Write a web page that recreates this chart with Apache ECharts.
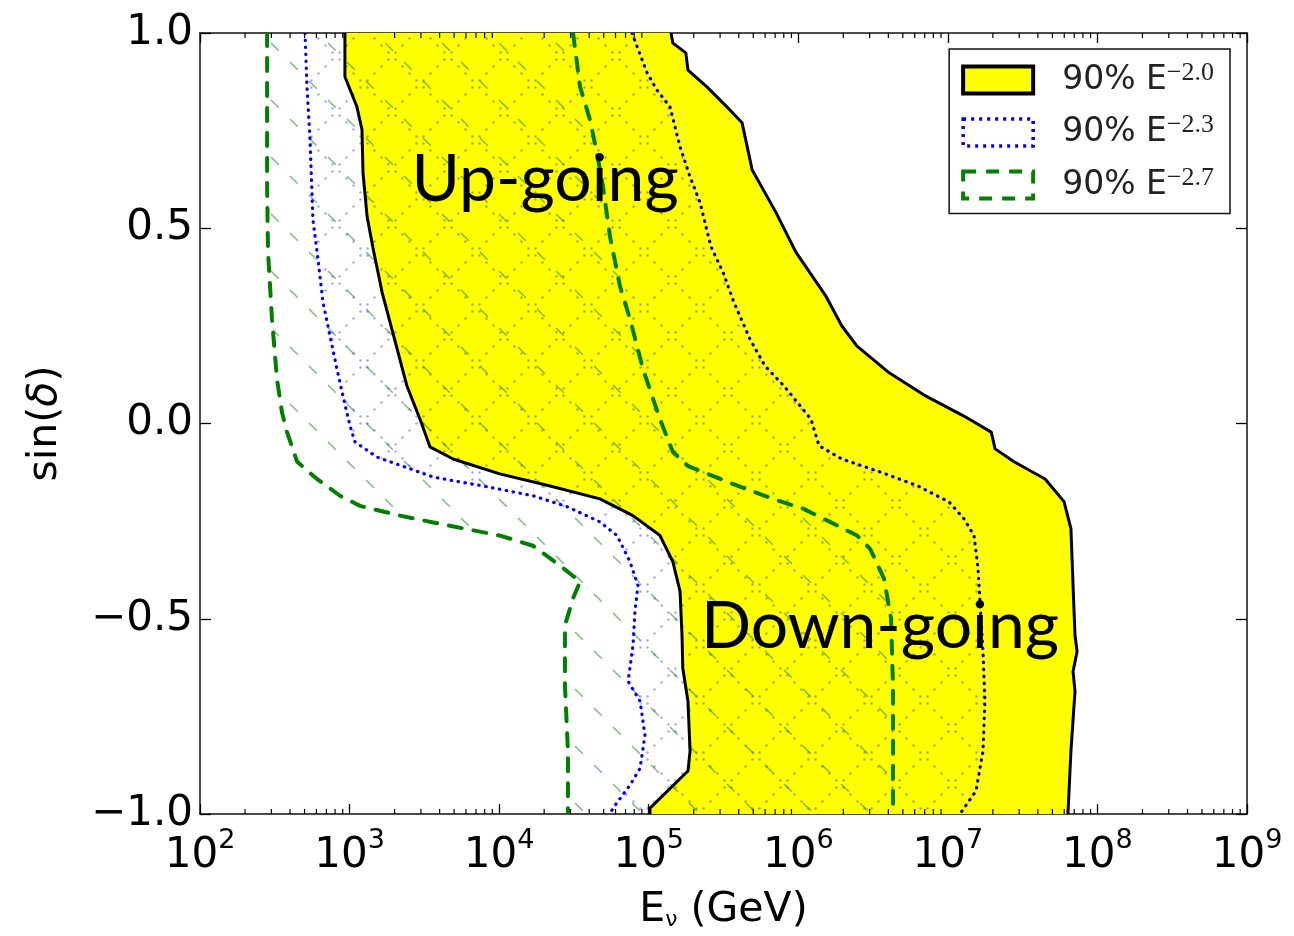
<!DOCTYPE html>
<html>
<head>
<meta charset="utf-8">
<script src="https://cdn.jsdelivr.net/npm/echarts@6/dist/echarts.min.js"></script>
<style>
  html, body { margin: 0; padding: 0; background: #fff; }
  #chart { width: 1294px; height: 936px; }
</style>
</head>
<body>
<div id="chart"></div>
<script>
// 90% sensitivity bands in (E_nu, sin(delta)) for three spectral indices.
// Each band is bounded by a low-energy edge and a high-energy edge.

// E^-2.0 (yellow band)
const e20LeftE   = [931, 931, 1120, 1210, 1230, 1310, 1440, 1650, 1920, 2420, 2960, 3450, 4920, 10100, 21900, 47200, 78500, 119000, 145000, 162000, 167000, 169000, 183000, 189000, 183000, 102000, 102000];
const e20LeftSin = [1.0, 0.888, 0.811, 0.753, 0.642, 0.530, 0.446, 0.336, 0.241, 0.096, 0.011, -0.060, -0.091, -0.129, -0.160, -0.193, -0.236, -0.287, -0.354, -0.430, -0.543, -0.627, -0.711, -0.839, -0.890, -0.985, -1.0];
const e20RightE   = [1.41e5, 1.45e5, 1.77e5, 1.83e5, 2.45e5, 3.49e5, 4.21e5, 4.91e5, 7.10e5, 9.66e5, 1.53e6, 1.96e6, 2.47e6, 3.98e6, 7.14e6, 1.28e7, 1.95e7, 2.07e7, 2.77e7, 4.47e7, 5.98e7, 6.65e7, 6.87e7, 7.08e7, 7.31e7, 6.87e7, 7.08e7, 6.65e7, 6.35e7];
const e20RightSin = [1.0, 0.974, 0.949, 0.905, 0.862, 0.803, 0.770, 0.650, 0.540, 0.438, 0.326, 0.249, 0.198, 0.132, 0.070, 0.019, -0.022, -0.065, -0.098, -0.142, -0.200, -0.269, -0.415, -0.543, -0.584, -0.635, -0.686, -0.839, -1.0];

// E^-2.3 (blue dotted band)
const e23LeftE   = [504, 519, 543, 569, 615, 664, 740, 824, 904, 1007, 1086, 1524, 3614, 7798, 16830, 28440, 47210, 61380, 74990, 84720, 80910, 78520, 72780, 87500, 94410, 87500, 74990, 57680, 55080];
const e23LeftSin = [1.0, 0.862, 0.734, 0.522, 0.420, 0.310, 0.224, 0.139, 0.070, -0.006, -0.047, -0.086, -0.137, -0.160, -0.185, -0.213, -0.252, -0.287, -0.354, -0.415, -0.481, -0.568, -0.660, -0.711, -0.798, -0.883, -0.926, -0.985, -1.0];
const e23RightE   = [77270, 97500, 113500, 138700, 161800, 188800, 220300, 260600, 314100, 371500, 475300, 599800, 803500, 1.216e6, 1.377e6, 1.959e6, 3.516e6, 6.31e6, 1.019e7, 1.282e7, 1.496e7, 1.592e7, 1.641e7, 1.718e7, 1.770e7, 1.718e7, 1.542e7, 1.205e7];
const e23RightSin = [1.0, 0.898, 0.854, 0.811, 0.709, 0.632, 0.566, 0.453, 0.387, 0.310, 0.216, 0.147, 0.096, 0.011, -0.057, -0.091, -0.124, -0.160, -0.201, -0.244, -0.287, -0.372, -0.456, -0.584, -0.711, -0.839, -0.941, -1.0];

// E^-2.7 (green dashed band)
const e27LeftE   = [281, 281, 285, 303, 327, 353, 382, 446, 605, 863, 1175, 2173, 4688, 10140, 16830, 25530, 34750, 31190, 27540, 27540, 28840, 28840];
const e27LeftSin = [1.0, 0.607, 0.438, 0.267, 0.114, 0.029, -0.022, -0.098, -0.142, -0.185, -0.211, -0.236, -0.262, -0.287, -0.313, -0.364, -0.405, -0.448, -0.517, -0.671, -0.839, -1.0];
const e27RightE   = [31190, 34750, 40460, 45080, 49430, 55080, 64270, 74990, 91620, 118900, 145200, 183200, 395400, 677600, 1.076e6, 1.629e6, 2.472e6, 3.020e6, 3.741e6, 4.169e6, 4.295e6, 4.295e6];
const e27RightSin = [1.0, 0.862, 0.778, 0.693, 0.607, 0.479, 0.351, 0.267, 0.139, 0.011, -0.073, -0.109, -0.160, -0.193, -0.218, -0.252, -0.287, -0.321, -0.397, -0.499, -0.671, -1.0];

const seriesNames = ['90% E^-2.0', '90% E^-2.3', '90% E^-2.7'];
const legendExponents = ['\u22122.0', '\u22122.3', '\u22122.7'];

const annotationText = ['Up-going', 'Down-going'];
const annotationE    = [2.03e4, 3.52e6];
const annotationSin  = [0.625, -0.52];

const xMin = 1e2, xMax = 1e9;
const yMin = -1, yMax = 1, yStep = 0.5;

// minor tick positions (2..9 x 10^n) for the log axis
const minorTicks = [];
for (let p = 2; p < 9; p++) {
  for (let m = 2; m <= 9; m++) minorTicks.push([m * Math.pow(10, p), yMin]);
}

// hatch textures
function crossHatch() {
  const d = 56, c = document.createElement('canvas');
  c.width = d; c.height = d;
  const ctx = c.getContext('2d');
  ctx.fillStyle = 'rgba(0,0,255,0.36)';
  const n = 8, step = d / n;
  for (let k = 0; k < n; k++) {
    const t = (k + 0.5) * step;
    ctx.beginPath(); ctx.arc(t, t, 1.2, 0, Math.PI * 2); ctx.fill();
    ctx.beginPath(); ctx.arc(t, d - t, 1.2, 0, Math.PI * 2); ctx.fill();
  }
  return c;
}
function backHatch() {
  const d = 57, c = document.createElement('canvas');
  c.width = d; c.height = d;
  const ctx = c.getContext('2d');
  ctx.strokeStyle = 'rgba(0,128,0,0.5)';
  ctx.lineWidth = 1.6;
  for (let k = 0; k < 3; k++) {
    const u0 = k * d / 3 + 5, u1 = u0 + 7.8;
    ctx.beginPath(); ctx.moveTo(u0, u0); ctx.lineTo(u1, u1); ctx.stroke();
  }
  return c;
}

function bandPoints(api, lE, lS, rE, rS) {
  const pts = [];
  for (let i = 0; i < lE.length; i++) pts.push(api.coord([lE[i], lS[i]]));
  for (let i = rE.length - 1; i >= 0; i--) pts.push(api.coord([rE[i], rS[i]]));
  return pts;
}
function edgePoints(api, E, S) {
  const pts = [];
  for (let i = 0; i < E.length; i++) pts.push(api.coord([E[i], S[i]]));
  return pts;
}

function fillSeries(name, lE, lS, rE, rS, fill, z) {
  return {
    type: 'custom', name: name, z: z, silent: true, clip: true,
    data: [[lE[0], lS[0]]],
    encode: { x: 0, y: 1 },
    renderItem: function (params, api) {
      return { type: 'polygon', shape: { points: bandPoints(api, lE, lS, rE, rS) },
               style: { fill: fill, stroke: null } };
    }
  };
}
function edgeSeries(name, lE, lS, rE, rS, stroke, width, dash, z) {
  return {
    type: 'custom', name: name, z: z, silent: true, clip: true,
    data: [[lE[0], lS[0]]],
    encode: { x: 0, y: 1 },
    renderItem: function (params, api) {
      const st = { fill: null, stroke: stroke, lineWidth: width, lineDash: dash, lineCap: dash ? 'round' : 'butt', lineJoin: 'round' };
      return { type: 'group', children: [
        { type: 'polyline', shape: { points: edgePoints(api, lE, lS) }, style: st },
        { type: 'polyline', shape: { points: edgePoints(api, rE, rS) }, style: st }
      ] };
    }
  };
}

const chart = echarts.init(document.getElementById('chart'), null, { renderer: 'canvas' });

const axisLineStyle = { color: '#111', width: 1.5 };
const tickFont = { fontFamily: 'DejaVu Sans', fontSize: 42, color: '#000' };

const option = {
  animation: false,
  backgroundColor: '#fff',
  grid: { left: 200, top: 33, right: 47, bottom: 120 },
  xAxis: [
    {
      type: 'log', logBase: 10, min: xMin, max: xMax, position: 'bottom',
      axisLine: { show: true, onZero: false, lineStyle: axisLineStyle },
      axisTick: { show: true, inside: true, length: 10, lineStyle: { color: '#000', width: 1.3 } },
      splitLine: { show: false },
      axisLabel: {
        margin: 13, showMinLabel: true, showMaxLabel: true,
        formatter: function (v) { return '{b|10}{s|' + Math.round(Math.log10(v)) + '}'; },
        rich: {
          b: { fontFamily: 'DejaVu Sans', fontSize: 42, color: '#000', lineHeight: 58 },
          s: { fontFamily: 'DejaVu Sans', fontSize: 27, color: '#000', verticalAlign: 'top' }
        }
      },
      name: 'E{sub|\u03bd} (GeV)', nameLocation: 'middle', nameGap: 76,
      nameTextStyle: {
        fontFamily: 'DejaVu Sans', fontSize: 41, color: '#000',
        rich: { sub: { fontFamily: 'DejaVu Sans', fontSize: 22, color: '#000', verticalAlign: 'bottom' } }
      }
    },
    {
      type: 'log', logBase: 10, min: xMin, max: xMax, position: 'top',
      axisLine: { show: true, onZero: false, lineStyle: axisLineStyle },
      axisTick: { show: true, inside: true, length: 10, lineStyle: { color: '#000', width: 1.3 } },
      axisLabel: { show: false }, splitLine: { show: false }
    }
  ],
  yAxis: [
    {
      type: 'value', min: yMin, max: yMax, interval: yStep, position: 'left',
      axisLine: { show: true, onZero: false, lineStyle: axisLineStyle },
      axisTick: { show: true, inside: true, length: 11, lineStyle: { color: '#000', width: 1.3 } },
      splitLine: { show: false },
      axisLabel: Object.assign({ margin: 7, formatter: function (v) { return v.toFixed(1).replace('-', '\u2212'); } }, tickFont),
      name: 'sin({i|\u03b4})', nameLocation: 'middle', nameGap: 134, nameRotate: 90,
      nameTextStyle: {
        fontFamily: 'DejaVu Sans', fontSize: 41, color: '#000',
        rich: { i: { fontFamily: 'DejaVu Sans', fontStyle: 'italic', fontSize: 41, color: '#000' } }
      }
    },
    {
      type: 'value', min: yMin, max: yMax, interval: yStep, position: 'right',
      axisLine: { show: true, onZero: false, lineStyle: axisLineStyle },
      axisTick: { show: true, inside: true, length: 11, lineStyle: { color: '#000', width: 1.3 } },
      axisLabel: { show: false }, splitLine: { show: false }
    }
  ],
  legend: {
    orient: 'vertical', right: 64, top: 49,
    backgroundColor: '#fff', borderColor: '#111', borderWidth: 1.5, borderRadius: 0,
    padding: [11, 16, 12, 12],
    itemWidth: 70, itemHeight: 27, itemGap: 16, icon: 'rect',
    selectedMode: false,
    data: [
      { name: seriesNames[0], itemStyle: { color: '#ffff00', borderColor: '#000', borderWidth: 4 } },
      { name: seriesNames[1], itemStyle: { color: '#ffffff', borderColor: '#0000ff', borderWidth: 3.5, borderType: [3, 5] } },
      { name: seriesNames[2], itemStyle: { color: '#ffffff', borderColor: '#007f00', borderWidth: 4, borderType: [13, 10] } }
    ],
    formatter: function (name) {
      const i = seriesNames.indexOf(name);
      return '{t|90% E}{s|' + legendExponents[i] + '}';
    },
    textStyle: {
      rich: {
        t: { fontFamily: 'DejaVu Sans', fontSize: 33, color: '#222', lineHeight: 40, padding: [0, 0, 0, 24] },
        s: { fontFamily: 'Liberation Serif', fontSize: 26, color: '#222', verticalAlign: 'top' }
      }
    }
  },
  series: [
    fillSeries(seriesNames[0], e20LeftE, e20LeftSin, e20RightE, e20RightSin, '#ffff00', 2),
    fillSeries(seriesNames[1], e23LeftE, e23LeftSin, e23RightE, e23RightSin, { image: crossHatch(), repeat: 'repeat' }, 3),
    fillSeries(seriesNames[2], e27LeftE, e27LeftSin, e27RightE, e27RightSin, { image: backHatch(), repeat: 'repeat' }, 3),
    edgeSeries(seriesNames[0], e20LeftE, e20LeftSin, e20RightE, e20RightSin, '#000', 3, null, 4),
    edgeSeries(seriesNames[1], e23LeftE, e23LeftSin, e23RightE, e23RightSin, '#0000ff', 3.2, [0.5, 6.5], 4),
    edgeSeries(seriesNames[2], e27LeftE, e27LeftSin, e27RightE, e27RightSin, '#007f00', 4, [13, 12], 4),
    {
      // minor ticks of the log energy axis (bottom and top)
      type: 'custom', silent: true, z: 6,
      data: minorTicks, encode: { x: 0, y: 1 },
      renderItem: function (params, api) {
        const x = api.coord([api.value(0), yMin])[0];
        const cs = params.coordSys;
        const st = { stroke: '#000', lineWidth: 1.2 };
        return { type: 'group', children: [
          { type: 'line', shape: { x1: x, y1: cs.y + cs.height, x2: x, y2: cs.y + cs.height - 5 }, style: st },
          { type: 'line', shape: { x1: x, y1: cs.y, x2: x, y2: cs.y + 5 }, style: st }
        ] };
      }
    },
    {
      // region annotations
      type: 'custom', silent: true, z: 7,
      data: annotationE.map(function (e, i) { return [e, annotationSin[i]]; }),
      encode: { x: 0, y: 1 },
      renderItem: function (params, api) {
        const p = api.coord([api.value(0), api.value(1)]);
        return { type: 'text', x: p[0], y: p[1],
                 style: { text: annotationText[params.dataIndex], fontFamily: 'Lato', fontSize: 66,
                          fill: '#000', align: 'center', verticalAlign: 'middle' } };
      }
    }
  ]
};

chart.setOption(option);
</script>
</body>
</html>
